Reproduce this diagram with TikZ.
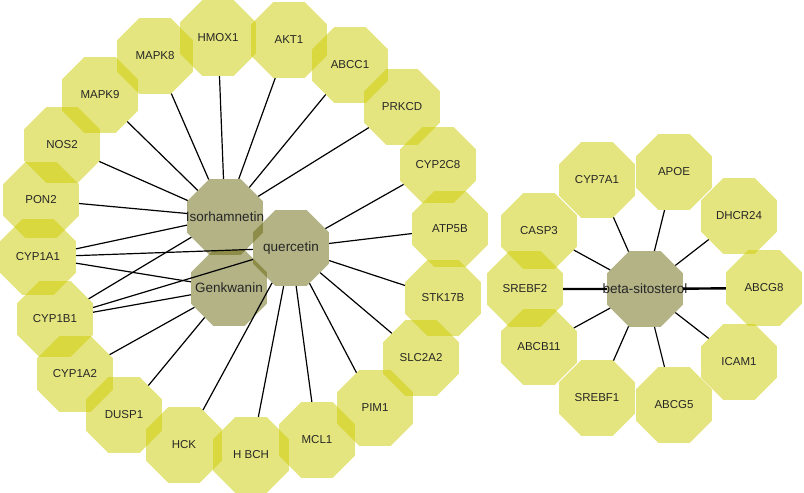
\documentclass[tikz,border=0pt]{standalone}
\usepackage{fontspec}
\setmainfont{Liberation Sans}
\usetikzlibrary{shapes.geometric}
\definecolor{GeneYellow}{RGB}{204,204,0}
\definecolor{HerbOlive}{RGB}{103,103,13}
% keep the octagon at its size whatever the label width
\newcommand{\widelabel}[1]{\makebox[0pt]{#1}}

\begin{document}
\begin{tikzpicture}[x=1pt, y=-1pt,
                % target and compound nodes
                gene/.style={regular polygon, regular polygon sides=8, minimum size=82pt, inner sep=0pt,
                    fill=GeneYellow, fill opacity=0.5, text opacity=1, text=black!85,
                    font=\fontsize{11.5}{12}\selectfont},
                herb/.style={gene, fill=HerbOlive, font=\fontsize{13.5}{14}\selectfont},
                link/.style={draw=black, line width=1.2pt},
                boldlink/.style={link, line width=2.4pt}
            ]
                \useasboundingbox (0,0) rectangle (804,493);

                % Compounds
                \node[herb] (Iso) at (225,217) {\widelabel{Isorhamnetin}};
                \node[herb] (Que) at (291,248) {\widelabel{quercetin}};
                \node[herb] (Gen) at (229,288) {\widelabel{Genkwanin}};
                \node[herb] (Sit) at (645,289) {\widelabel{beta-sitosterol}};

                % Left ring
                \node[gene] (MAPK8) at (155,56) {MAPK8};
                \node[gene] (HMOX1) at (218,38) {HMOX1};
                \node[gene] (AKT1) at (289,40) {AKT1};
                \node[gene] (ABCC1) at (350,65) {ABCC1};
                \node[gene] (PRKCD) at (402,107) {PRKCD};
                \node[gene] (CYP2C8) at (438,165) {CYP2C8};
                \node[gene] (ATP5B) at (450,229) {ATP5B};
                \node[gene] (STK17B) at (443,298) {STK17B};
                \node[gene] (SLC2A2) at (421,358) {SLC2A2};
                \node[gene] (PIM1) at (375,408) {PIM1};
                \node[gene] (MCL1) at (317,440) {MCL1};
                \node[gene] (HBCH) at (251,455) {H BCH};
                \node[gene] (HCK) at (184,445) {HCK};
                \node[gene] (DUSP1) at (124,415) {DUSP1};
                \node[gene] (CYP1A2) at (75,374) {CYP1A2};
                \node[gene] (CYP1B1) at (55,319) {CYP1B1};
                \node[gene] (CYP1A1) at (38,257) {CYP1A1};
                \node[gene] (PON2) at (41,200) {PON2};
                \node[gene] (NOS2) at (62,145) {NOS2};
                \node[gene] (MAPK9) at (100,95) {MAPK9};

                % Right ring
                \node[gene] (ABCG8) at (764,288) {ABCG8};
                \node[gene] (DHCR24) at (739,216) {DHCR24};
                \node[gene] (APOE) at (674,172) {APOE};
                \node[gene] (CYP7A1) at (597,180) {CYP7A1};
                \node[gene] (CASP3) at (539,231) {CASP3};
                \node[gene] (SREBF2) at (525,289) {SREBF2};
                \node[gene] (ABCB11) at (539,347) {ABCB11};
                \node[gene] (SREBF1) at (597,398) {SREBF1};
                \node[gene] (ABCG5) at (674,405) {ABCG5};
                \node[gene] (ICAM1) at (739,362) {ICAM1};

                % Isorhamnetin links
                \draw[link] (MAPK8) -- (Iso);
                \draw[link] (HMOX1) -- (Iso);
                \draw[link] (AKT1) -- (Iso);
                \draw[link] (ABCC1) -- (Iso);
                \draw[link] (PRKCD) -- (Iso);
                \draw[link] (MAPK9) -- (Iso);
                \draw[link] (NOS2) -- (Iso);
                \draw[link] (PON2) -- (Iso);
                \draw[link] (CYP1A1) -- (Iso);
                \draw[link] (CYP1B1) -- (Iso);

                % quercetin links
                \draw[link] (CYP2C8) -- (Que);
                \draw[link] (ATP5B) -- (Que);
                \draw[link] (STK17B) -- (Que);
                \draw[link] (SLC2A2) -- (Que);
                \draw[link] (PIM1) -- (Que);
                \draw[link] (MCL1) -- (Que);
                \draw[link] (HBCH) -- (Que);
                \draw[link] (HCK) -- (Que);
                \draw[link] (CYP1A1) -- (Que);
                \draw[link] (CYP1B1) -- (Que);

                % Genkwanin links
                \draw[link] (CYP1A1) -- (Gen);
                \draw[link] (CYP1B1) -- (Gen);
                \draw[link] (CYP1A2) -- (Gen);
                \draw[link] (DUSP1) -- (Gen);

                % beta-sitosterol links
                \draw[boldlink] (ABCG8) -- (Sit);
                \draw[link] (DHCR24) -- (Sit);
                \draw[link] (APOE) -- (Sit);
                \draw[link] (CYP7A1) -- (Sit);
                \draw[link] (CASP3) -- (Sit);
                \draw[boldlink] (SREBF2) -- (Sit);
                \draw[link] (ABCB11) -- (Sit);
                \draw[link] (SREBF1) -- (Sit);
                \draw[link] (ABCG5) -- (Sit);
                \draw[link] (ICAM1) -- (Sit);

            \end{tikzpicture}
\end{document}
